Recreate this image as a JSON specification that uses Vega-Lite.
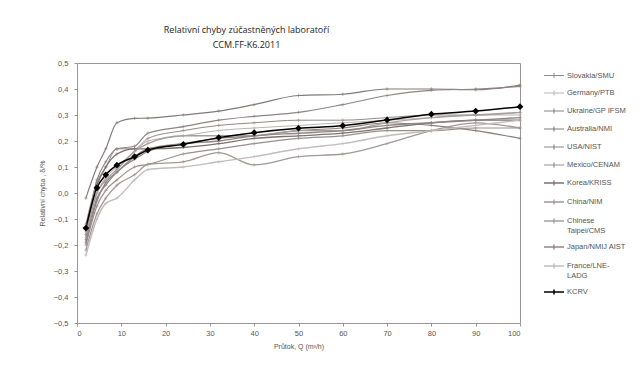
{
  "$schema": "https://vega.github.io/schema/vega-lite/v6.json",
  "autosize": "none",
  "width": 443,
  "height": 260,
  "padding": {"left": 77, "top": 63, "right": 120, "bottom": 42},
  "background": "white",
  "config": {
    "view": {"stroke": "#9a9494", "strokeWidth": 1},
    "font": "Liberation Sans"
  },
  "title": {
    "text": ["Relativní chyby zúčastněných laboratoří", "CCM.FF-K6.2011"],
    "anchor": "middle",
    "dx": -52,
    "offset": 9,
    "font": "Open Sans",
    "fontSize": 9,
    "fontWeight": "normal",
    "color": "#222222",
    "lineHeight": 15
  },
  "datasets": {
    "d": [
      {"s": "Slovakia/SMU", "q": 2, "v": -0.12}, {"s": "Slovakia/SMU", "q": 4.5, "v": 0.04}, {"s": "Slovakia/SMU", "q": 6.5, "v": 0.1}, {"s": "Slovakia/SMU", "q": 9, "v": 0.17}, {"s": "Slovakia/SMU", "q": 13, "v": 0.17}, {"s": "Slovakia/SMU", "q": 16, "v": 0.21}, {"s": "Slovakia/SMU", "q": 24, "v": 0.24}, {"s": "Slovakia/SMU", "q": 32, "v": 0.26}, {"s": "Slovakia/SMU", "q": 40, "v": 0.27}, {"s": "Slovakia/SMU", "q": 50, "v": 0.28}, {"s": "Slovakia/SMU", "q": 60, "v": 0.28}, {"s": "Slovakia/SMU", "q": 70, "v": 0.29}, {"s": "Slovakia/SMU", "q": 80, "v": 0.3}, {"s": "Slovakia/SMU", "q": 90, "v": 0.3}, {"s": "Slovakia/SMU", "q": 100, "v": 0.31},
      {"s": "Germany/PTB", "q": 2, "v": -0.15}, {"s": "Germany/PTB", "q": 4.5, "v": 0.0}, {"s": "Germany/PTB", "q": 6.5, "v": 0.06}, {"s": "Germany/PTB", "q": 9, "v": 0.1}, {"s": "Germany/PTB", "q": 13, "v": 0.16}, {"s": "Germany/PTB", "q": 16, "v": 0.2}, {"s": "Germany/PTB", "q": 24, "v": 0.22}, {"s": "Germany/PTB", "q": 32, "v": 0.24}, {"s": "Germany/PTB", "q": 40, "v": 0.25}, {"s": "Germany/PTB", "q": 50, "v": 0.26}, {"s": "Germany/PTB", "q": 60, "v": 0.27}, {"s": "Germany/PTB", "q": 70, "v": 0.28}, {"s": "Germany/PTB", "q": 80, "v": 0.29}, {"s": "Germany/PTB", "q": 90, "v": 0.3}, {"s": "Germany/PTB", "q": 100, "v": 0.3},
      {"s": "Ukraine/GP IFSM", "q": 2, "v": -0.18}, {"s": "Ukraine/GP IFSM", "q": 4.5, "v": -0.02}, {"s": "Ukraine/GP IFSM", "q": 6.5, "v": 0.03}, {"s": "Ukraine/GP IFSM", "q": 9, "v": 0.08}, {"s": "Ukraine/GP IFSM", "q": 13, "v": 0.13}, {"s": "Ukraine/GP IFSM", "q": 16, "v": 0.16}, {"s": "Ukraine/GP IFSM", "q": 24, "v": 0.19}, {"s": "Ukraine/GP IFSM", "q": 32, "v": 0.21}, {"s": "Ukraine/GP IFSM", "q": 40, "v": 0.22}, {"s": "Ukraine/GP IFSM", "q": 50, "v": 0.24}, {"s": "Ukraine/GP IFSM", "q": 60, "v": 0.25}, {"s": "Ukraine/GP IFSM", "q": 70, "v": 0.27}, {"s": "Ukraine/GP IFSM", "q": 80, "v": 0.26}, {"s": "Ukraine/GP IFSM", "q": 90, "v": 0.24}, {"s": "Ukraine/GP IFSM", "q": 100, "v": 0.21},
      {"s": "Australia/NMI", "q": 2, "v": -0.02}, {"s": "Australia/NMI", "q": 4.5, "v": 0.1}, {"s": "Australia/NMI", "q": 6.5, "v": 0.17}, {"s": "Australia/NMI", "q": 9, "v": 0.27}, {"s": "Australia/NMI", "q": 13, "v": 0.287}, {"s": "Australia/NMI", "q": 16, "v": 0.288}, {"s": "Australia/NMI", "q": 24, "v": 0.3}, {"s": "Australia/NMI", "q": 32, "v": 0.315}, {"s": "Australia/NMI", "q": 40, "v": 0.34}, {"s": "Australia/NMI", "q": 50, "v": 0.375}, {"s": "Australia/NMI", "q": 60, "v": 0.38}, {"s": "Australia/NMI", "q": 70, "v": 0.4}, {"s": "Australia/NMI", "q": 80, "v": 0.4}, {"s": "Australia/NMI", "q": 90, "v": 0.397}, {"s": "Australia/NMI", "q": 100, "v": 0.415},
      {"s": "USA/NIST", "q": 2, "v": -0.16}, {"s": "USA/NIST", "q": 4.5, "v": 0.05}, {"s": "USA/NIST", "q": 6.5, "v": 0.12}, {"s": "USA/NIST", "q": 9, "v": 0.17}, {"s": "USA/NIST", "q": 13, "v": 0.18}, {"s": "USA/NIST", "q": 16, "v": 0.23}, {"s": "USA/NIST", "q": 24, "v": 0.255}, {"s": "USA/NIST", "q": 32, "v": 0.28}, {"s": "USA/NIST", "q": 40, "v": 0.295}, {"s": "USA/NIST", "q": 50, "v": 0.31}, {"s": "USA/NIST", "q": 60, "v": 0.34}, {"s": "USA/NIST", "q": 70, "v": 0.375}, {"s": "USA/NIST", "q": 80, "v": 0.395}, {"s": "USA/NIST", "q": 90, "v": 0.4}, {"s": "USA/NIST", "q": 100, "v": 0.41},
      {"s": "Mexico/CENAM", "q": 2, "v": -0.2}, {"s": "Mexico/CENAM", "q": 4.5, "v": -0.05}, {"s": "Mexico/CENAM", "q": 6.5, "v": 0.01}, {"s": "Mexico/CENAM", "q": 9, "v": 0.05}, {"s": "Mexico/CENAM", "q": 13, "v": 0.1}, {"s": "Mexico/CENAM", "q": 16, "v": 0.11}, {"s": "Mexico/CENAM", "q": 24, "v": 0.15}, {"s": "Mexico/CENAM", "q": 32, "v": 0.17}, {"s": "Mexico/CENAM", "q": 40, "v": 0.19}, {"s": "Mexico/CENAM", "q": 50, "v": 0.21}, {"s": "Mexico/CENAM", "q": 60, "v": 0.22}, {"s": "Mexico/CENAM", "q": 70, "v": 0.24}, {"s": "Mexico/CENAM", "q": 80, "v": 0.24}, {"s": "Mexico/CENAM", "q": 90, "v": 0.25}, {"s": "Mexico/CENAM", "q": 100, "v": 0.25},
      {"s": "Korea/KRISS", "q": 2, "v": -0.14}, {"s": "Korea/KRISS", "q": 4.5, "v": 0.03}, {"s": "Korea/KRISS", "q": 6.5, "v": 0.1}, {"s": "Korea/KRISS", "q": 9, "v": 0.15}, {"s": "Korea/KRISS", "q": 13, "v": 0.17}, {"s": "Korea/KRISS", "q": 16, "v": 0.17}, {"s": "Korea/KRISS", "q": 24, "v": 0.175}, {"s": "Korea/KRISS", "q": 32, "v": 0.19}, {"s": "Korea/KRISS", "q": 40, "v": 0.21}, {"s": "Korea/KRISS", "q": 50, "v": 0.22}, {"s": "Korea/KRISS", "q": 60, "v": 0.23}, {"s": "Korea/KRISS", "q": 70, "v": 0.25}, {"s": "Korea/KRISS", "q": 80, "v": 0.27}, {"s": "Korea/KRISS", "q": 90, "v": 0.28}, {"s": "Korea/KRISS", "q": 100, "v": 0.28},
      {"s": "China/NIM", "q": 2, "v": -0.22}, {"s": "China/NIM", "q": 4.5, "v": -0.08}, {"s": "China/NIM", "q": 6.5, "v": -0.02}, {"s": "China/NIM", "q": 9, "v": 0.03}, {"s": "China/NIM", "q": 13, "v": 0.07}, {"s": "China/NIM", "q": 16, "v": 0.11}, {"s": "China/NIM", "q": 24, "v": 0.12}, {"s": "China/NIM", "q": 32, "v": 0.155}, {"s": "China/NIM", "q": 40, "v": 0.108}, {"s": "China/NIM", "q": 50, "v": 0.14}, {"s": "China/NIM", "q": 60, "v": 0.15}, {"s": "China/NIM", "q": 70, "v": 0.19}, {"s": "China/NIM", "q": 80, "v": 0.24}, {"s": "China/NIM", "q": 90, "v": 0.27}, {"s": "China/NIM", "q": 100, "v": 0.25},
      {"s": "Chinese Taipei/CMS", "q": 2, "v": -0.17}, {"s": "Chinese Taipei/CMS", "q": 4.5, "v": 0.0}, {"s": "Chinese Taipei/CMS", "q": 6.5, "v": 0.05}, {"s": "Chinese Taipei/CMS", "q": 9, "v": 0.09}, {"s": "Chinese Taipei/CMS", "q": 13, "v": 0.16}, {"s": "Chinese Taipei/CMS", "q": 16, "v": 0.19}, {"s": "Chinese Taipei/CMS", "q": 24, "v": 0.22}, {"s": "Chinese Taipei/CMS", "q": 32, "v": 0.22}, {"s": "Chinese Taipei/CMS", "q": 40, "v": 0.22}, {"s": "Chinese Taipei/CMS", "q": 50, "v": 0.24}, {"s": "Chinese Taipei/CMS", "q": 60, "v": 0.24}, {"s": "Chinese Taipei/CMS", "q": 70, "v": 0.27}, {"s": "Chinese Taipei/CMS", "q": 80, "v": 0.29}, {"s": "Chinese Taipei/CMS", "q": 90, "v": 0.3}, {"s": "Chinese Taipei/CMS", "q": 100, "v": 0.31},
      {"s": "Japan/NMIJ AIST", "q": 2, "v": -0.19}, {"s": "Japan/NMIJ AIST", "q": 4.5, "v": -0.03}, {"s": "Japan/NMIJ AIST", "q": 6.5, "v": 0.04}, {"s": "Japan/NMIJ AIST", "q": 9, "v": 0.08}, {"s": "Japan/NMIJ AIST", "q": 13, "v": 0.14}, {"s": "Japan/NMIJ AIST", "q": 16, "v": 0.17}, {"s": "Japan/NMIJ AIST", "q": 24, "v": 0.19}, {"s": "Japan/NMIJ AIST", "q": 32, "v": 0.2}, {"s": "Japan/NMIJ AIST", "q": 40, "v": 0.22}, {"s": "Japan/NMIJ AIST", "q": 50, "v": 0.23}, {"s": "Japan/NMIJ AIST", "q": 60, "v": 0.24}, {"s": "Japan/NMIJ AIST", "q": 70, "v": 0.26}, {"s": "Japan/NMIJ AIST", "q": 80, "v": 0.27}, {"s": "Japan/NMIJ AIST", "q": 90, "v": 0.28}, {"s": "Japan/NMIJ AIST", "q": 100, "v": 0.29},
      {"s": "France/LNE-LADG", "q": 2, "v": -0.24}, {"s": "France/LNE-LADG", "q": 4.5, "v": -0.1}, {"s": "France/LNE-LADG", "q": 6.5, "v": -0.04}, {"s": "France/LNE-LADG", "q": 9, "v": -0.02}, {"s": "France/LNE-LADG", "q": 13, "v": 0.05}, {"s": "France/LNE-LADG", "q": 16, "v": 0.09}, {"s": "France/LNE-LADG", "q": 24, "v": 0.1}, {"s": "France/LNE-LADG", "q": 32, "v": 0.12}, {"s": "France/LNE-LADG", "q": 40, "v": 0.14}, {"s": "France/LNE-LADG", "q": 50, "v": 0.17}, {"s": "France/LNE-LADG", "q": 60, "v": 0.19}, {"s": "France/LNE-LADG", "q": 70, "v": 0.22}, {"s": "France/LNE-LADG", "q": 80, "v": 0.24}, {"s": "France/LNE-LADG", "q": 90, "v": 0.26}, {"s": "France/LNE-LADG", "q": 100, "v": 0.28},
      {"s": "KCRV", "q": 2, "v": -0.135}, {"s": "KCRV", "q": 4.5, "v": 0.02}, {"s": "KCRV", "q": 6.5, "v": 0.07}, {"s": "KCRV", "q": 9, "v": 0.107}, {"s": "KCRV", "q": 13, "v": 0.14}, {"s": "KCRV", "q": 16, "v": 0.165}, {"s": "KCRV", "q": 24, "v": 0.187}, {"s": "KCRV", "q": 32, "v": 0.213}, {"s": "KCRV", "q": 40, "v": 0.232}, {"s": "KCRV", "q": 50, "v": 0.249}, {"s": "KCRV", "q": 60, "v": 0.259}, {"s": "KCRV", "q": 70, "v": 0.281}, {"s": "KCRV", "q": 80, "v": 0.303}, {"s": "KCRV", "q": 90, "v": 0.315}, {"s": "KCRV", "q": 100, "v": 0.332}
    ]
  },
  "data": {"name": "d"},
  "encoding": {
    "x": {
      "field": "q", "type": "quantitative",
      "scale": {"domain": [0, 100], "nice": false},
      "axis": {
        "values": [0, 10, 20, 30, 40, 50, 60, 70, 80, 90, 100],
        "title": "Průtok, Q (m³/h)",
        "titleFont": "Liberation Sans", "titleFontSize": 7, "titleFontWeight": "normal", "titleColor": "#555555", "titlePadding": 6,
        "labelFontSize": 7.5, "labelColor": "#555555", "labelPadding": 3,
        "grid": false, "domain": false, "tickSize": 3, "tickColor": "#9a9494"
      }
    },
    "y": {
      "field": "v", "type": "quantitative",
      "scale": {"domain": [-0.5, 0.5], "nice": false},
      "axis": {
        "values": [-0.5, -0.4, -0.3, -0.2, -0.1, 0, 0.1, 0.2, 0.3, 0.4, 0.5],
        "labelExpr": "replace(format(datum.value, '.1f'), '.', ',')",
        "title": "Relativní chyba , δ/%",
        "titleFont": "Liberation Sans", "titleFontSize": 7, "titleFontWeight": "normal", "titleColor": "#555555", "titlePadding": 8,
        "labelFontSize": 7.5, "labelColor": "#555555", "labelPadding": 6,
        "grid": false, "domain": false, "tickSize": 3, "tickColor": "#9a9494"
      }
    }
  },
  "layer": [
    {
      "mark": {"type": "line", "interpolate": "monotone"},
      "encoding": {
        "color": {
          "field": "s", "type": "nominal",
          "scale": {
            "domain": ["Slovakia/SMU", "Germany/PTB", "Ukraine/GP IFSM", "Australia/NMI", "USA/NIST", "Mexico/CENAM", "Korea/KRISS", "China/NIM", "Chinese Taipei/CMS", "Japan/NMIJ AIST", "France/LNE-LADG", "KCRV"],
            "range": ["#948888", "#bdb4b4", "#8c8080", "#857878", "#8f8383", "#9a8e8e", "#7d7070", "#a39898", "#a89e9e", "#918585", "#c4bcbc", "#000000"]
          },
          "legend": {
            "orient": "none", "legendX": 466, "legendY": 2,
            "title": null,
            "symbolType": "M-1,0H1M0,-0.25V0.25",
            "symbolSize": 400, "symbolStrokeWidth": 1,
            "labelFont": "Liberation Sans", "labelFontSize": 7.5, "labelColor": "#555555",
            "labelOffset": 2, "rowPadding": 2, "labelLineHeight": 8,
            "labelExpr": "datum.label == 'Chinese Taipei/CMS' ? ['Chinese', 'Taipei/CMS'] : datum.label == 'France/LNE-LADG' ? ['France/LNE-', 'LADG'] : datum.label"
          }
        },
        "strokeWidth": {
          "field": "s", "type": "nominal",
          "scale": {
            "domain": ["Slovakia/SMU", "Germany/PTB", "Ukraine/GP IFSM", "Australia/NMI", "USA/NIST", "Mexico/CENAM", "Korea/KRISS", "China/NIM", "Chinese Taipei/CMS", "Japan/NMIJ AIST", "France/LNE-LADG", "KCRV"],
            "range": [1, 1.5, 1, 1, 1, 1, 1, 1, 1, 1, 1, 2.5]
          },
          "legend": null
        }
      }
    },
    {
      "transform": [{"filter": "datum.s != 'KCRV'"}],
      "mark": {"type": "point", "shape": "M-1,0H1M0,-1V1", "filled": false, "strokeWidth": 0.8, "size": 12},
      "encoding": {
        "color": {"field": "s", "type": "nominal", "legend": null}
      }
    },
    {
      "transform": [{"filter": "datum.s == 'KCRV'"}],
      "mark": {"type": "point", "shape": "diamond", "filled": true, "color": "#000000", "size": 45, "opacity": 1}
    }
  ]
}
